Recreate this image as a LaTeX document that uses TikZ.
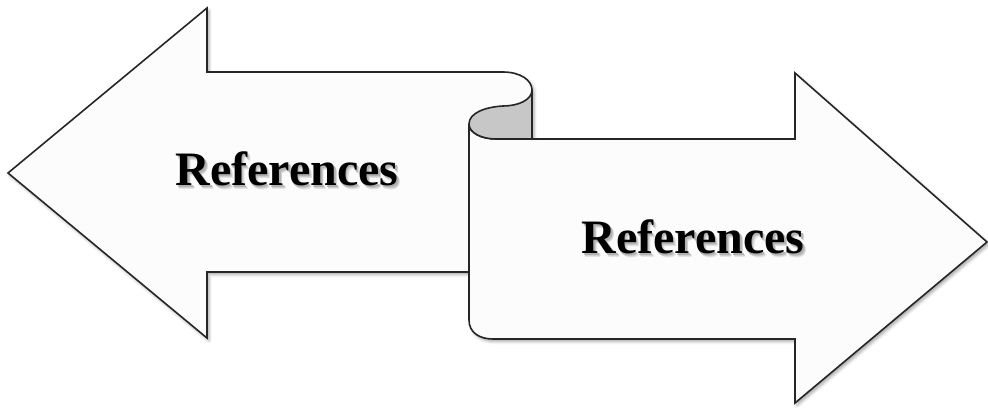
\documentclass[tikz,border=0pt]{standalone}
\usepackage{fontspec}
\setmainfont{Liberation Serif}
\usetikzlibrary{shadows.blur}
% bold label with a soft grey drop shadow stacked behind it
\newcommand{\shadetext}[1]{%
  \rlap{\hspace{3pt}\raisebox{-4pt}{\color{black!10}#1}}%
  \rlap{\hspace{2.5pt}\raisebox{-3pt}{\color{black!18}#1}}%
  \rlap{\hspace{1.5pt}\raisebox{-2pt}{\color{black!30}#1}}%
  #1}
\begin{document}
\begin{tikzpicture}[x=1pt,y=-1pt,
  sheet/.style={fill=white!99!black, draw=black!85, line width=1.6pt, line join=miter,
    blur shadow={shadow xshift=2pt, shadow yshift=-2.5pt, shadow blur radius=3pt, shadow opacity=35}},
  rollpart/.style={fill=black!22, draw=black!85, line width=1.6pt},
  label/.style={font=\bfseries\fontsize{48}{48}\selectfont, text=black, anchor=base, inner sep=0pt}]
\useasboundingbox (0,0) rectangle (988,408);

% left arrow, its right end rolling over into the scroll
\path[sheet] (8,173) -- (207,8) -- (207,72) -- (503,72)
  .. controls (520,72) and (532,80) .. (532,90) -- (532,272)
  -- (207,272) -- (207,338) -- cycle;

% right arrow, the unrolled part of the scroll
\path[sheet] (469,124) .. controls (469,133) and (482,139) .. (496,139)
  -- (795,139) -- (795,73) -- (987,242) -- (795,403) -- (795,339)
  -- (493,339) .. controls (480,339) and (469,333) .. (469,320) -- cycle;

% shaded inside of the roll
\path[rollpart] (532,90) .. controls (532,100) and (518,106) .. (503,106)
  .. controls (485,107) and (469,113) .. (469,124)
  .. controls (469,133) and (482,139) .. (496,139) -- (532,139) -- cycle;

% labels
\node[label] (leftlabel) at (287,185) {\shadetext{References}};
\node[label] (rightlabel) at (693,253) {\shadetext{References}};
\end{tikzpicture}
\end{document}
